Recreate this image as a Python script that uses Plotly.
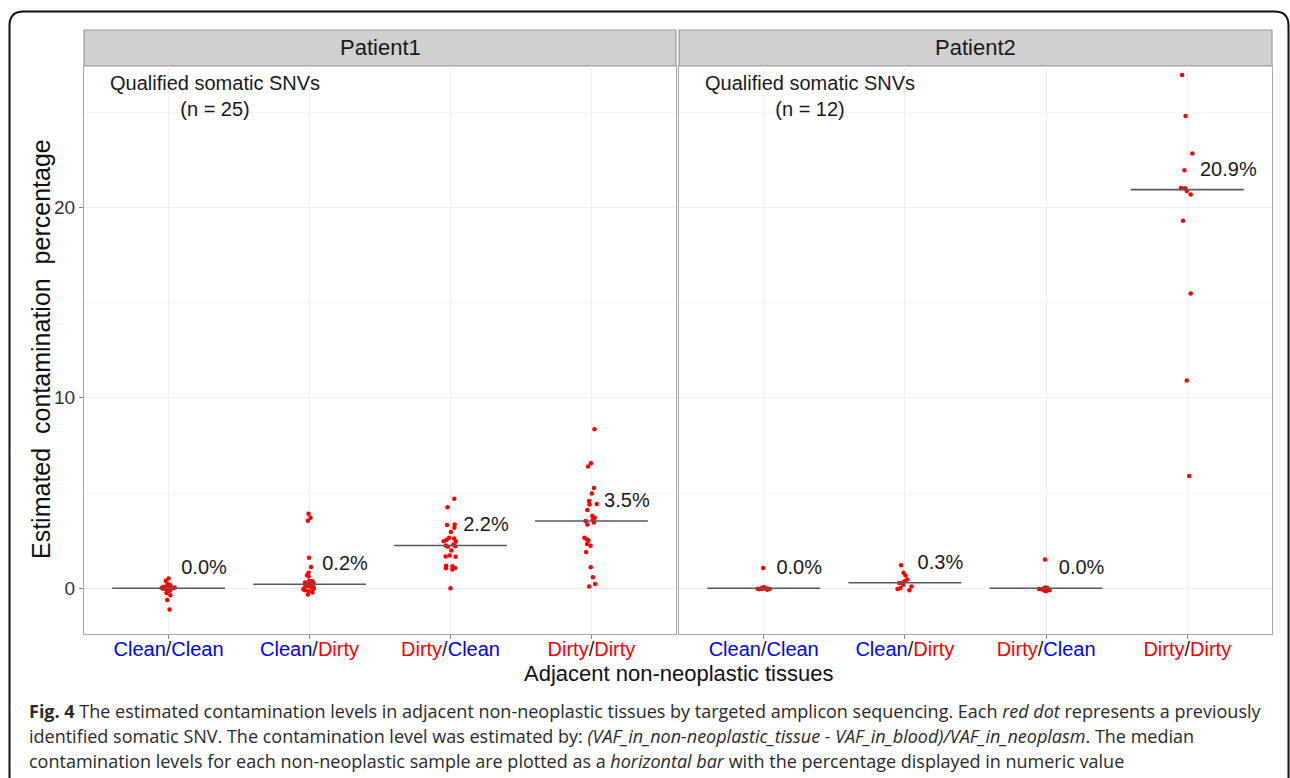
import plotly.graph_objects as go

# ---------------- data ----------------
categories = ["Clean/Clean", "Clean/Dirty", "Dirty/Clean", "Dirty/Dirty"]
patients = ["Patient1", "Patient2"]

p1_clean_clean = [0.51, 0.40, 0.23, 0.19, 0.16, 0.14, 0.11, 0.08, 0.05, 0.04, 0.02, 0.01, 0.00,
                  0.00, -0.01, -0.03, -0.05, -0.07, -0.09, -0.12, -0.15, -0.25, -0.37, -0.61, -1.11]
p1_clean_dirty = [3.91, 3.70, 3.54, 1.60, 1.12, 0.81, 0.68, 0.63, 0.40, 0.37, 0.30, 0.25, 0.21,
                  0.20, 0.15, 0.11, 0.05, 0.02, -0.02, -0.04, -0.07, -0.10, -0.16, -0.22, -0.33]
p1_dirty_clean = [4.70, 4.26, 3.35, 3.32, 3.18, 2.96, 2.65, 2.62, 2.55, 2.47, 2.45, 2.30, 2.25,
                  2.21, 2.18, 1.98, 1.72, 1.67, 1.65, 1.18, 1.16, 1.07, 1.05, 0.98, 0.00]
p1_dirty_dirty = [8.35, 6.56, 6.39, 5.26, 4.98, 4.58, 4.43, 4.40, 4.11, 3.79, 3.70, 3.62, 3.53,
                  3.45, 3.35, 2.65, 2.58, 2.51, 2.33, 2.23, 1.91, 1.11, 0.58, 0.23, 0.09]

p2_clean_clean = [1.07, 0.05, 0.03, 0.02, 0.00, 0.00, -0.01, -0.02, -0.03, -0.04, -0.05, -0.08]
p2_clean_dirty = [1.21, 0.81, 0.67, 0.46, 0.37, 0.30, 0.28, 0.19, 0.10, 0.02, -0.04, -0.10]
p2_dirty_clean = [1.51, 0.04, 0.02, 0.00, 0.00, -0.02, -0.04, -0.05, -0.07, -0.10, -0.12, -0.15]
p2_dirty_dirty = [26.95, 24.79, 22.82, 21.95, 21.02, 21.00, 20.86, 20.67, 19.30, 15.47, 10.91, 5.89]

medians_p1 = [0.0, 0.21, 2.25, 3.53]
medians_p2 = [0.0, 0.29, 0.0, 20.93]

y_ticks = [0, 10, 20]

caption_lines = [
    "<b>Fig. 4</b> The estimated contamination levels in adjacent non-neoplastic tissues by targeted "
    "amplicon sequencing. Each <i>red dot</i> represents a previously",
    "identified somatic SNV. The contamination level was estimated by: "
    "<i>(VAF_in_non-neoplastic_tissue - VAF_in_blood)/VAF_in_neoplasm</i>. The median",
    "contamination levels for each non-neoplastic sample are plotted as a <i>horizontal bar</i> "
    "with the percentage displayed in numeric value",
]

# ---------------- layout helpers ----------------
W, H = 1290, 778


def fx(px):
    return px / W


def fy(py):
    return 1 - py / H


FONT = "Liberation Sans, Arial, Helvetica, sans-serif"
BLUE = "#0000FF"
RED = "#FF0000"
GRID = "#EFEFEF"
MINOR = "#F6F6F6"
BORDER = "#A8A8A8"

panel_data = [
    [p1_clean_clean, p1_clean_dirty, p1_dirty_clean, p1_dirty_dirty],
    [p2_clean_clean, p2_clean_dirty, p2_dirty_clean, p2_dirty_dirty],
]
panel_medians = [medians_p1, medians_p2]
panel_x = [(84, 676), (679, 1272)]
plot_top, plot_bottom = 66, 634


def tick_html(cat):
    a, b = cat.split("/")
    col = lambda w: BLUE if w == "Clean" else RED
    return (f'<span style="color:{col(a)}">{a}</span>'
            f'<span style="color:#222222">/</span>'
            f'<span style="color:{col(b)}">{b}</span>')


fig = go.Figure()

for p, (groups, meds) in enumerate(zip(panel_data, panel_medians)):
    xa = "x" if p == 0 else "x2"
    ya = "y" if p == 0 else "y2"
    xs, ys = [], []
    for i, vals in enumerate(groups):
        xs += [i] * len(vals)
        ys += vals
    # jittered points (library jitter)
    fig.add_trace(go.Box(
        x=xs, y=ys, xaxis=xa, yaxis=ya,
        boxpoints="all", jitter=0.22, pointpos=0,
        fillcolor="rgba(0,0,0,0)", line=dict(color="rgba(0,0,0,0)", width=0),
        marker=dict(color=RED, size=4.5), showlegend=False, hoverinfo="y",
    ))
    # median bars
    mx, my = [], []
    for i, m in enumerate(meds):
        mx += [i - 0.4, i + 0.4, None]
        my += [m, m, None]
    fig.add_trace(go.Scatter(
        x=mx, y=my, xaxis=xa, yaxis=ya, mode="lines",
        line=dict(color="#5A5A5A", width=1.6), showlegend=False, hoverinfo="skip",
    ))
    # median labels
    fig.add_trace(go.Scatter(
        x=[i + 0.09 for i in range(len(meds))], y=[m + 1.0 for m in meds],
        xaxis=xa, yaxis=ya, mode="text",
        text=[f"{m:.1f}%" for m in meds], textposition="middle right",
        textfont=dict(family=FONT, size=20, color="#1A1A1A"),
        showlegend=False, hoverinfo="skip",
    ))
    # n annotation
    n = len(groups[0])
    fig.add_annotation(
        x=0.33, y=25.85, xref=xa, yref=ya, showarrow=False,
        xanchor="center", yanchor="middle",
        text=f"Qualified somatic SNVs<br>(n = {n})", align="center",
        font=dict(family=FONT, size=20, color="#1A1A1A"),
    )

axis_common = dict(
    range=[-0.6, 3.6], tickmode="array", tickvals=list(range(len(categories))),
    ticktext=[tick_html(c) for c in categories],
    tickfont=dict(family=FONT, size=20),
    ticks="outside", ticklen=4, tickcolor="#888888", ticklabelstandoff=-7,
    showgrid=True, gridcolor=GRID, gridwidth=1, zeroline=False,
    showline=True, mirror=True, linecolor=BORDER, linewidth=1.2,
)
yaxis_common = dict(
    range=[-2.4, 27.42], tickmode="array", tickvals=y_ticks,
    ticks="outside", ticklen=4, tickcolor="#888888",
    tickfont=dict(family=FONT, size=19, color="#333333"),
    showgrid=True, gridcolor=GRID, gridwidth=1, zeroline=False,
    minor=dict(tickmode="array", tickvals=[5, 15, 25], showgrid=True, gridcolor=MINOR, ticks=""),
    showline=True, mirror=True, linecolor=BORDER, linewidth=1.2,
    domain=[fy(plot_bottom), fy(plot_top)],
)

fig.update_layout(
    width=W, height=H,
    margin=dict(l=0, r=0, t=0, b=0),
    paper_bgcolor="white", plot_bgcolor="white",
    font=dict(family=FONT, color="#1A1A1A"),
    xaxis=dict(domain=[fx(panel_x[0][0]), fx(panel_x[0][1])], anchor="y", **axis_common),
    xaxis2=dict(domain=[fx(panel_x[1][0]), fx(panel_x[1][1])], anchor="y2", **axis_common),
    yaxis=dict(anchor="x", **yaxis_common),
    yaxis2=dict(anchor="x2", matches="y", **{**yaxis_common, "ticks": "", "showticklabels": False}),
)

shapes = []
# strips
for p, (x0, x1) in enumerate(panel_x):
    shapes.append(dict(type="rect", xref="paper", yref="paper",
                       x0=fx(x0), x1=fx(x1), y0=fy(66), y1=fy(30),
                       fillcolor="#D0D0D0", line=dict(color="#9C9C9C", width=1.2), layer="below"))
    fig.add_annotation(x=fx((x0 + x1) / 2), y=fy(48), xref="paper", yref="paper",
                       xanchor="center", yanchor="middle",
                       text=patients[p], showarrow=False,
                       font=dict(family=FONT, size=22, color="#1A1A1A"))

# outer rounded frame (open at the bottom, continues off-page)
L, T, R, B, r = 9.5, 11.5, 1288.5, 800, 14
path = (f"M {fx(L)},{fy(B)} L {fx(L)},{fy(T + r)} Q {fx(L)},{fy(T)} {fx(L + r)},{fy(T)} "
        f"L {fx(R - r)},{fy(T)} Q {fx(R)},{fy(T)} {fx(R)},{fy(T + r)} L {fx(R)},{fy(B)}")
shapes.append(dict(type="path", xref="paper", yref="paper", path=path,
                   line=dict(color="#111111", width=2)))
fig.update_layout(shapes=shapes)

# axis titles
fig.add_annotation(x=fx(678), y=fy(673), xref="paper", yref="paper", showarrow=False,
                   xanchor="center", yanchor="middle",
                   text="Adjacent non-neoplastic tissues",
                   font=dict(family=FONT, size=22, color="#111111"))
fig.add_annotation(x=fx(41), y=fy(349), xref="paper", yref="paper", showarrow=False,
                   xanchor="center", yanchor="middle",
                   text="Estimated&nbsp; contamination&nbsp; percentage", textangle=-90,
                   font=dict(family=FONT, size=25, color="#111111"))

# caption
for k, line in enumerate(caption_lines):
    fig.add_annotation(x=fx(27), y=fy(711 + 25 * k), xref="paper", yref="paper",
                       xanchor="left", yanchor="middle", showarrow=False, text=line,
                       font=dict(family="Open Sans, Noto Sans, sans-serif", size=18, color="#2A2A2A"))

fig.write_html("out.html", config={"displayModeBar": False},
               post_script="document.body.style.margin='0px';")
